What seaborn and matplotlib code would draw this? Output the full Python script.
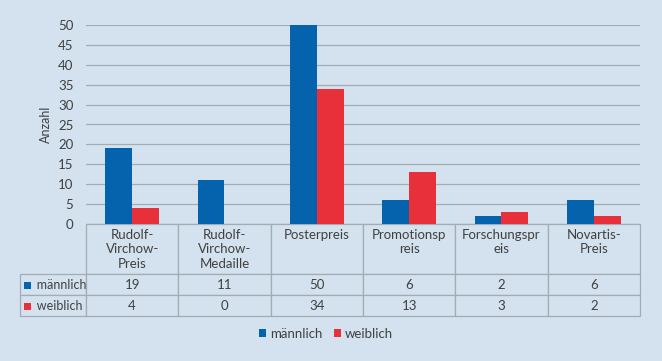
"""
Preise nach Geschlecht (Balken mit Datentabelle)
"""

# Libraries
import pandas as pd
import seaborn as sns
import matplotlib.pyplot as plt
from matplotlib.patches import Patch, Rectangle

# -----------------------------------
# Constants
# -----------------------------------
categories = ['Rudolf-\nVirchow-\nPreis', 'Rudolf-\nVirchow-\nMedaille',
              'Posterpreis', 'Promotionsp\nreis', 'Forschungspr\neis',
              'Novartis-\nPreis']
maennlich = [19, 11, 50, 6, 2, 6]
weiblich = [4, 0, 34, 13, 3, 2]
series = ['männlich', 'weiblich']
yticks = [0, 5, 10, 15, 20, 25, 30, 35, 40, 45, 50]

BG = '#d3e2ee'
COLORS = ['#0563ae', '#e8303a']
TEXT = '#404040'
GRID = '#a3abb3'

# Long format for seaborn
data = pd.DataFrame({
    'kategorie': categories * 2,
    'geschlecht': [series[0]] * len(categories) + [series[1]] * len(categories),
    'anzahl': maennlich + weiblich,
})

# -----------------------------------
# Configuration
# -----------------------------------
sns.set_theme(style='white')
plt.rcParams['font.family'] = ['Lato', 'DejaVu Sans']
plt.rcParams.update({'font.size': 9, 'text.color': TEXT,
                     'xtick.color': TEXT, 'ytick.color': TEXT})

# Create figure
fig = plt.figure(figsize=(6.62, 3.61), dpi=100, facecolor=BG)
ax = fig.add_axes([86 / 662, 1 - 224 / 361, 554 / 662, 199 / 361])
ax.set_facecolor(BG)

# Bars
sns.barplot(data=data, x='kategorie', y='anzahl', hue='geschlecht',
            order=categories, hue_order=series, palette=COLORS,
            width=0.58, saturation=1, linewidth=0, ax=ax)
ax.get_legend().remove()

# Axes config
ax.set_ylim(0, 50)
ax.set_yticks(yticks)
ax.set_xlim(-0.5, len(categories) - 0.5)
ax.set(xlabel='', xticks=[])
ax.set_ylabel('Anzahl', fontsize=9, color=TEXT, va='center')
ax.yaxis.set_label_coords(-40.5 / 554, 0.5)
ax.yaxis.grid(True, color=GRID, linewidth=0.9)
ax.set_axisbelow(True)
ax.tick_params(axis='y', length=0, pad=9, labelsize=9.5)
sns.despine(ax=ax, left=True, bottom=True)

# Data table below (pad header labels so they stay top aligned)
nlines = max(c.count('\n') for c in categories)
headers = [c + '\n ' * (nlines - c.count('\n')) for c in categories]
cell_text = [[str(v) for v in maennlich], [str(v) for v in weiblich]]
table = ax.table(cellText=cell_text,
                 rowLabels=['   ' + s for s in series],
                 colLabels=headers,
                 cellLoc='center', rowLoc='left',
                 bbox=[0, -92 / 199, 1, 92 / 199])
table.auto_set_font_size(False)
table.set_fontsize(9.5)
table._autoColumns.clear()
for (r, c), cell in table.get_celld().items():
    cell.set_edgecolor(GRID)
    cell.set_facecolor(BG)
    cell.set_linewidth(0.9)
    cell.get_text().set_color(TEXT)
    if r == 0:
        cell.set_height(cell.get_height() * 51 / 21)
        cell.get_text().set_linespacing(1.25)
    if c == -1:
        cell.set_width(66 / 554)
        cell.get_text().set_fontsize(9)

# Small colour squares in the row labels
for i, col in enumerate(COLORS):
    y = 1 - (289 + 20.5 * i) / 361
    fig.patches.append(Rectangle((24 / 662, y), 7 / 662, 7 / 361,
                                 transform=fig.transFigure,
                                 facecolor=col, edgecolor='none'))

# Legend
handles = [Patch(facecolor=c, edgecolor='none') for c in COLORS]
fig.legend(handles, series, loc='center', ncol=2, frameon=False,
           bbox_to_anchor=(326 / 662, 1 - 334 / 361), fontsize=9.5,
           handlelength=0.55, handleheight=0.55, handletextpad=0.3,
           columnspacing=0.9)

# Save
fig.savefig('out.png', dpi=100, facecolor=BG)
